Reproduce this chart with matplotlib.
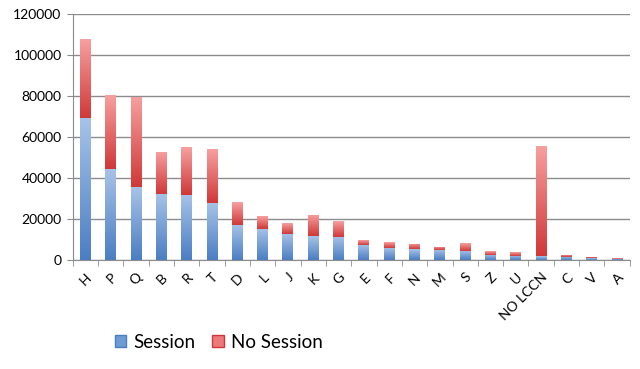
import numpy as np
import matplotlib
matplotlib.use("Agg")
import matplotlib.pyplot as plt
from matplotlib.colors import LinearSegmentedColormap
from matplotlib.patches import Patch

plt.rcParams['font.family'] = ['Lato', 'DejaVu Sans']

categories = ['H', 'P', 'Q', 'B', 'R', 'T', 'D', 'L', 'J', 'K', 'G',
              'E', 'F', 'N', 'M', 'S', 'Z', 'U', 'NO LCCN', 'C', 'V', 'A']
session = [69300, 44500, 35400, 32200, 31900, 28000, 17200, 15300, 12700,
           11700, 11400, 7500, 5900, 5200, 4900, 4600, 2600, 2100, 1900,
           1500, 800, 500]
no_session = [38300, 36100, 44300, 20500, 23400, 26300, 11100, 6200, 5200,
              10300, 7800, 2300, 2900, 2600, 1500, 3900, 1600, 1800, 53700,
              1000, 500, 450]

blue_cmap = LinearSegmentedColormap.from_list('blue', ['#4a7ec3', '#a8c3e8'])
red_cmap = LinearSegmentedColormap.from_list('red', ['#d03838', '#f7a0a0'])


def gradient_fill(ax, bars, cmap):
    grad = np.linspace(0, 1, 256).reshape(-1, 1)
    for b in bars:
        x0, y0 = b.get_x(), b.get_y()
        w, h = b.get_width(), b.get_height()
        if h <= 0:
            continue
        b.set_facecolor('none')
        im = ax.imshow(grad, cmap=cmap, origin='lower', aspect='auto',
                       extent=(x0, x0 + w, y0, y0 + h), zorder=2,
                       interpolation='bilinear')
        im.set_clip_path(b)


fig = plt.figure(figsize=(6.4, 3.69), dpi=100)
ax = fig.add_axes([0.1136, 0.2954, 0.8704, 0.6666])

x = np.arange(len(categories))
width = 0.43
b1 = ax.bar(x, session, width, color='#4a7ec3', edgecolor='none', zorder=2)
b2 = ax.bar(x, no_session, width, bottom=session, color='#d03838',
            edgecolor='none', zorder=2)
gradient_fill(ax, b1, blue_cmap)
gradient_fill(ax, b2, red_cmap)

ax.set_xlim(-0.5, len(categories) - 0.5)
ax.set_ylim(0, 120000)
ax.set_yticks(np.arange(0, 120001, 20000))
ax.yaxis.grid(True, color='#8c8c8c', linewidth=1)
ax.set_axisbelow(True)

for s in ['top', 'right']:
    ax.spines[s].set_visible(False)
ax.spines['left'].set_color('#8c8c8c')
ax.spines['bottom'].set_color('#8c8c8c')

ax.set_xticks(x)
ax.set_xticklabels(categories, rotation=45, ha='right', va='top',
                   rotation_mode='anchor', fontsize=10)
ax.tick_params(axis='x', length=0, pad=8)
ax.set_xticks(np.arange(-0.5, len(categories), 1), minor=True)
ax.tick_params(axis='x', which='minor', length=4, color='#8c8c8c')
ax.tick_params(axis='y', length=4, color='#8c8c8c', labelsize=10, pad=4)

handles = [Patch(facecolor='#6f9bd4', edgecolor='#4a7ec3', label='Session'),
           Patch(facecolor='#ec7a7a', edgecolor='#d03838', label='No Session')]
fig.legend(handles=handles, loc='center', bbox_to_anchor=(0.342, 0.073),
           ncol=2, frameon=False, fontsize=13.5, handlelength=0.6,
           handleheight=0.6, handletextpad=0.4, columnspacing=0.9)

fig.savefig('out.png', dpi=100)
